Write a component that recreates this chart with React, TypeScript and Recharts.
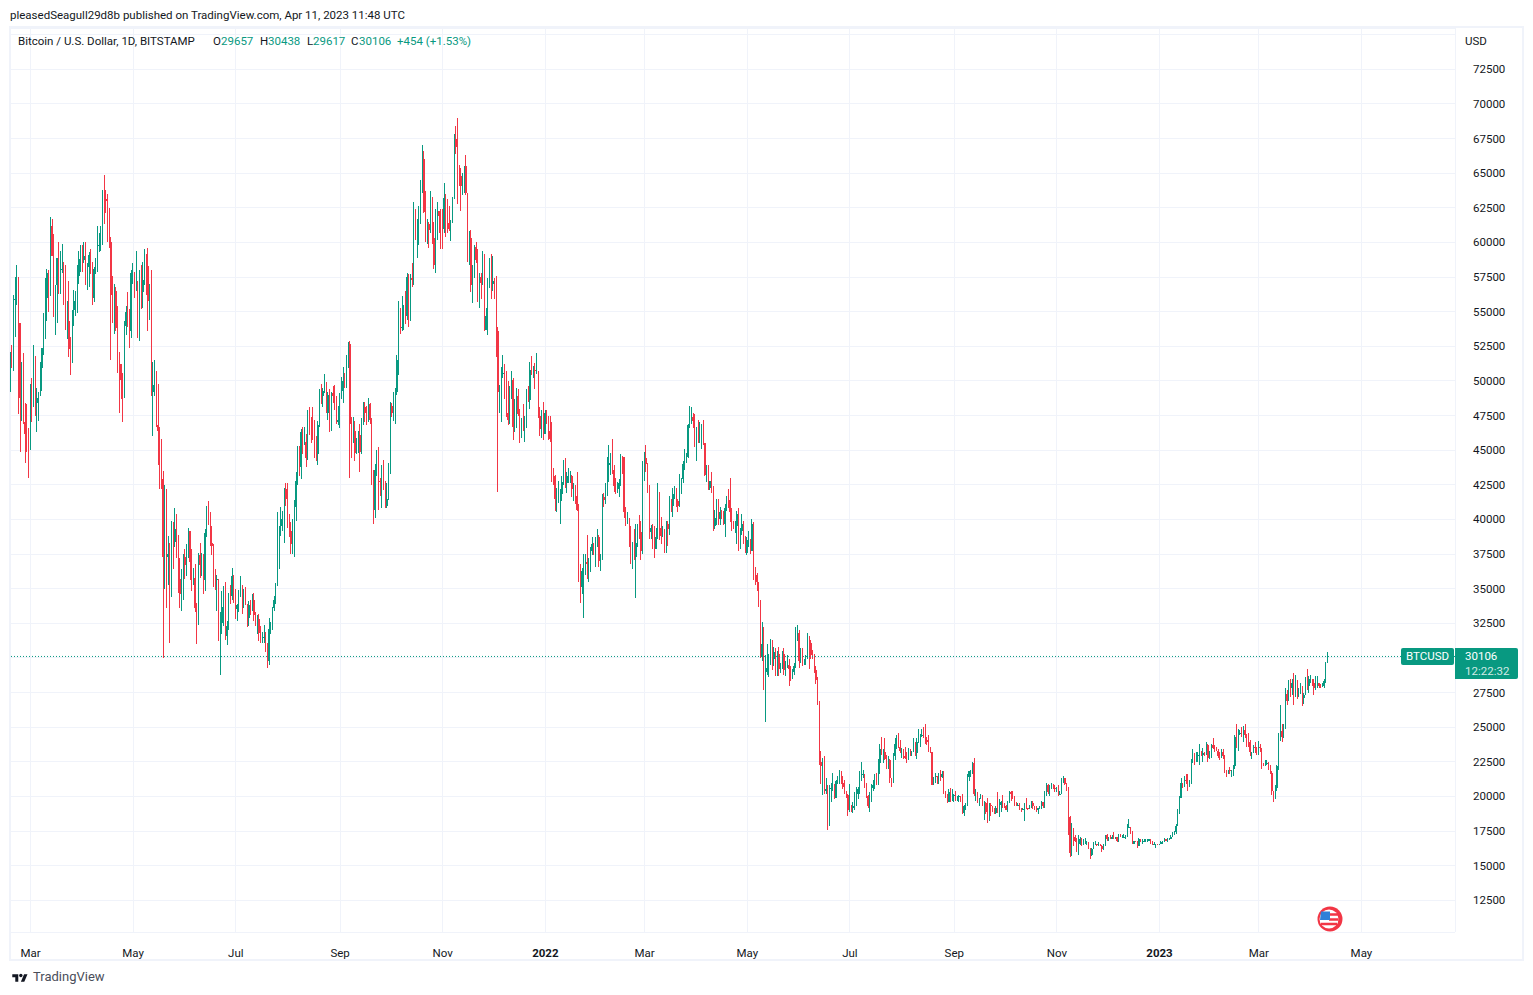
import React from 'react';
import { ComposedChart, Bar, XAxis, YAxis, CartesianGrid, ReferenceLine } from 'recharts';

// Daily [high, low, close] triples in $k, one named list per month
const feb21 = [52.6,48.9,52.1, 52.6,50.9,51.6, 56.2,50.7,55.9, 57.5,53.2,55.9, 58.4,55.5,57.4, 57.5,47.6,54.2, 54.2,44.9,48.8, 51.4,47.1,49.7, 52.0,46.9,47.0, 48.4,44.1,46.2, 48.3,44.9,46.1, 46.6,43.0,45.2];
const mar21 = [49.8,45.0,49.6, 50.2,47.0,48.4, 52.6,48.1,50.4, 51.8,47.5,48.4, 49.5,46.3,48.8, 49.2,47.1,48.9, 51.4,48.9,50.9, 52.4,49.3,52.4, 54.9,51.9,54.9, 57.4,53.0,56.0, 58.1,54.3,57.8, 58.0,55.0,57.2, 61.8,56.1,61.2, 61.7,59.0,59.0, 60.6,54.6,55.6, 56.9,53.3,56.9, 58.9,54.2,58.9, 60.0,56.3,57.6, 59.4,56.3,58.1, 59.9,57.8,58.1, 58.6,55.5,57.4, 58.4,53.7,54.1, 55.8,53.0,54.3, 57.2,51.7,52.3, 53.2,50.4,51.3, 55.1,51.3,55.1, 56.6,54.0,55.8, 56.5,54.7,55.8, 58.4,54.9,57.6, 59.4,57.0,58.8, 59.8,57.9,58.8];
const apr21 = [59.8,57.9,58.7, 60.0,58.5,59.0, 60.0,56.9,57.1, 58.5,56.6,58.2, 59.3,56.8,59.1, 59.5,57.7,58.0, 58.6,55.5,56.0, 58.2,55.7,58.1, 58.9,57.7,58.1, 61.2,57.9,59.8, 60.7,59.3,59.8, 61.2,59.4,60.0, 63.8,59.8,63.6, 64.9,61.3,63.1, 63.8,62.1,63.0, 63.5,60.0,61.4, 62.5,59.6,60.0, 60.4,51.5,56.2, 57.6,54.2,55.7, 57.0,53.4,56.5, 56.8,53.6,53.8, 55.4,50.6,51.7, 52.1,47.7,51.2, 51.2,48.7,50.1, 50.6,47.0,49.1, 54.3,48.8,54.0, 55.4,53.3,55.0, 56.4,53.9,54.9, 55.2,52.4,53.6, 58.0,53.1,57.8];
const may21 = [58.5,57.0,57.8, 57.9,56.0,56.6, 59.4,56.5,57.2, 57.2,53.1,53.3, 58.0,52.9,57.5, 58.4,55.2,56.4, 58.6,55.3,57.3, 59.5,56.9,58.9, 59.2,56.2,58.3, 59.6,53.6,55.8, 57.0,54.4,56.7, 58.0,48.9,49.2, 51.4,46.0,49.7, 51.5,48.9,49.9, 50.7,46.7,46.8, 49.8,43.9,46.4, 46.7,42.2,43.6, 45.8,42.2,42.9, 43.5,30.0,37.3, 42.5,35.0,40.6, 42.2,33.6,37.3, 38.8,35.3,37.5, 38.3,31.1,34.8, 39.9,34.4,38.8, 39.8,36.4,38.4, 40.8,38.0,39.3, 40.4,37.2,38.5, 38.9,34.7,35.7, 37.2,33.6,34.6, 36.4,33.4,35.7, 37.5,34.2,37.3];
const jun21 = [37.9,35.7,36.7, 38.2,35.9,37.6, 39.4,37.2,39.2, 39.2,35.6,36.9, 37.9,34.8,35.5, 36.5,35.3,35.8, 36.8,33.3,33.6, 34.0,31.0,33.4, 37.6,32.4,37.4, 38.3,35.8,36.7, 37.6,35.9,37.3, 37.5,34.6,35.6, 39.3,34.8,39.0, 41.0,38.7,40.5, 41.3,39.6,40.2, 40.5,38.1,38.3, 39.5,37.4,38.1, 38.2,35.1,35.8, 36.4,34.9,35.6, 36.0,33.4,35.7, 35.7,31.2,31.6, 33.3,28.8,32.5, 34.8,31.7,33.7, 35.2,32.3,34.7, 35.5,31.3,31.6, 32.7,30.9,32.3, 34.7,32.0,34.7, 35.3,33.9,34.5, 36.5,34.2,35.9, 36.0,34.0,35.0];
const jul21 = [35.0,32.8,33.5, 33.9,32.7,33.8, 34.9,33.3,34.7, 35.9,34.4,35.3, 35.2,33.2,33.7, 35.0,33.6,34.2, 35.1,33.8,33.9, 33.9,32.2,32.9, 34.1,32.3,33.8, 34.2,33.1,33.5, 34.6,33.4,34.2, 34.7,32.7,33.1, 33.3,32.3,32.7, 33.1,31.7,32.8, 33.2,31.2,31.8, 32.3,31.1,31.4, 31.9,31.1,31.5, 32.4,31.1,31.5, 31.9,30.4,30.8, 31.1,29.3,29.8, 32.9,29.5,32.1, 32.6,31.7,32.3, 33.7,32.0,33.6, 34.5,33.4,34.2, 35.4,33.9,35.4, 40.5,35.2,37.3, 39.5,36.4,39.5, 40.9,38.8,40.0, 40.6,39.2,40.0, 42.3,38.3,42.2, 42.6,41.0,41.5];
const aug21 = [42.6,39.4,39.9, 40.4,38.7,39.2, 39.8,37.5,38.2, 40.0,37.5,39.7, 41.4,37.3,40.9, 43.4,39.9,42.8, 45.3,42.5,44.6, 45.3,43.1,43.8, 46.5,42.9,46.3, 46.7,44.7,45.6, 46.7,45.4,45.6, 46.2,43.8,44.4, 47.9,44.3,47.8, 48.1,46.1,47.1, 47.4,45.5,47.0, 48.1,45.7,46.0, 47.2,44.4,44.8, 46.0,44.2,44.7, 47.1,43.9,46.8, 49.4,46.7,49.3, 49.8,48.3,48.9, 49.5,48.1,49.3, 50.5,49.1,49.5, 49.9,47.7,47.7, 49.2,47.2,49.0, 49.4,46.3,46.9, 49.2,46.4,49.1, 49.6,48.4,48.9, 49.7,47.9,48.8, 48.9,46.9,47.0, 48.2,46.8,47.2];
const sep21 = [49.1,46.6,48.8, 50.3,48.7,49.3, 51.0,48.4,50.0, 50.6,49.5,49.9, 51.9,49.5,51.8, 52.8,50.9,52.7, 52.9,43.0,46.9, 47.4,44.4,46.1, 47.4,45.5,46.4, 47.1,44.2,44.8, 45.9,44.7,45.2, 46.4,44.8,46.1, 46.9,43.4,44.9, 47.3,44.7,47.1, 48.5,46.8,48.1, 48.5,47.0,47.7, 48.2,46.8,47.3, 48.8,47.0,48.3, 48.4,46.9,47.2, 47.3,42.5,43.0, 43.6,39.7,40.7, 44.0,40.1,43.6, 45.0,43.1,44.9, 45.2,40.7,42.8, 43.0,41.7,42.7, 43.9,40.8,43.2, 44.3,42.1,42.2, 42.8,40.8,41.0, 42.6,40.8,41.5, 44.1,41.4,43.8];
const oct21 = [48.5,43.3,48.2, 48.4,47.4,47.7, 49.2,47.1,48.2, 49.5,46.9,49.2, 51.9,49.0,51.5, 55.8,50.4,55.3, 55.3,53.4,53.8, 56.1,53.6,53.9, 55.5,53.7,54.9, 56.5,54.1,54.7, 57.8,54.4,57.5, 57.7,53.9,56.0, 57.7,54.3,57.4, 58.5,56.8,57.3, 62.9,56.9,61.7, 62.4,60.2,60.9, 61.7,58.9,61.5, 62.6,59.8,62.0, 64.5,61.3,64.3, 67.0,63.6,66.0, 66.6,62.1,62.2, 63.7,60.0,60.7, 61.7,59.9,61.3, 61.5,59.6,60.9, 63.7,60.7,63.1, 63.3,59.9,60.3, 61.5,58.1,58.4, 62.4,57.8,60.6, 62.9,60.2,62.3, 62.3,60.7,61.9, 62.4,59.5,61.3];
const nov21 = [62.4,59.5,61.0, 64.3,60.7,63.2, 63.5,60.4,62.9, 63.1,60.7,61.4, 62.6,60.8,61.0, 61.6,60.1,61.5, 63.3,61.4,63.3, 67.8,63.1,67.5, 68.4,66.4,66.9, 69.0,62.8,64.9, 65.6,64.1,64.8, 65.4,62.3,64.1, 65.0,63.4,64.4, 65.5,63.6,65.5, 66.3,63.4,63.6, 63.6,58.6,60.1, 60.8,58.4,60.3, 60.9,56.4,56.9, 58.4,55.6,58.1, 59.8,57.4,59.7, 60.0,58.5,58.7, 59.5,55.7,56.3, 57.8,55.3,57.5, 57.8,55.9,57.1, 59.4,56.9,58.9, 59.2,53.6,53.7, 55.3,53.7,54.7, 57.4,53.3,57.2, 58.9,56.7,57.8, 59.2,55.9,57.0];
const dec21 = [59.0,56.5,57.2, 57.4,55.9,56.5, 57.6,51.7,53.6, 53.9,42.0,49.2, 49.7,47.7,49.4, 51.0,47.0,50.6, 51.9,50.2,50.6, 51.2,48.7,50.5, 50.7,47.4,47.7, 50.0,46.8,47.2, 49.6,46.9,49.4, 50.7,48.7,50.1, 50.2,45.7,46.7, 48.7,46.3,48.4, 49.5,46.6,48.9, 49.4,47.5,47.6, 48.0,45.5,46.2, 47.3,45.9,46.9, 48.3,46.4,46.7, 47.5,45.6,46.9, 49.4,46.6,49.0, 49.6,48.5,48.6, 51.4,48.0,50.8, 51.8,50.4,50.4, 51.1,50.2,50.8, 51.3,49.4,50.7, 52.0,50.5,50.7, 50.7,47.3,47.5, 48.1,46.0,46.5, 47.9,45.9,47.1, 48.5,45.7,46.2];
const jan22 = [47.9,46.2,47.7, 47.9,46.9,47.3, 47.5,45.7,46.4, 47.5,45.6,45.8, 47.0,42.7,43.4, 43.7,42.5,43.1, 43.2,40.6,41.5, 42.3,40.5,41.7, 42.8,41.2,41.8, 42.2,39.7,41.8, 43.1,41.3,42.7, 44.3,42.5,43.9, 44.4,42.3,42.6, 43.4,41.9,43.1, 43.7,42.6,43.1, 43.5,42.6,43.1, 43.2,41.6,42.2, 42.6,41.3,42.4, 42.5,41.1,41.7, 43.4,40.6,40.7, 41.1,35.5,36.5, 36.8,34.0,35.1, 36.5,34.6,36.3, 37.5,32.9,36.7, 37.5,36.0,36.9, 38.9,35.7,36.8, 37.2,35.5,37.2, 38.0,36.2,37.7, 38.7,37.4,38.2, 38.3,37.4,37.9, 38.7,36.6,38.5];
const feb22 = [39.3,38.0,38.7, 38.9,36.6,37.0, 37.5,36.3,37.3, 41.8,37.1,41.6, 41.9,40.9,41.4, 42.6,41.1,42.4, 44.5,41.7,43.9, 45.4,42.7,44.1, 44.8,43.2,44.4, 45.8,43.3,43.6, 43.9,42.0,42.4, 43.0,41.8,42.2, 42.7,41.9,42.2, 42.9,41.6,42.6, 44.7,42.4,44.6, 44.6,43.3,44.5, 44.2,40.1,40.5, 40.9,39.5,40.0, 40.5,39.7,40.1, 40.1,38.0,38.4, 39.5,36.8,37.0, 38.4,36.4,38.2, 39.3,37.1,37.3, 39.7,34.3,38.3, 39.7,38.0,39.2, 40.3,38.6,39.1, 39.9,37.1,37.7, 44.2,37.5,43.2];
const mar22 = [44.9,42.8,44.4, 45.4,43.4,44.0, 44.1,41.9,42.5, 42.5,38.6,39.1, 39.6,38.6,39.4, 39.7,37.9,38.4, 39.5,37.2,37.9, 39.4,37.9,38.7, 42.6,38.6,41.9, 42.0,38.5,39.4, 40.2,38.2,38.8, 39.5,38.7,38.8, 39.3,37.6,37.8, 39.9,37.6,39.7, 39.9,38.1,39.3, 41.7,38.9,41.1, 41.5,40.5,41.0, 42.3,40.2,41.8, 42.4,41.5,42.2, 42.3,40.9,41.3, 41.5,40.5,41.0, 43.3,40.9,42.4, 43.0,41.8,42.9, 44.2,42.6,44.0, 45.1,43.6,44.3, 44.8,44.1,44.5, 46.9,44.4,46.8, 48.2,46.6,47.1, 48.1,46.9,47.4, 47.7,46.6,47.1, 47.6,45.2,45.5];
const apr22 = [46.7,44.2,46.3, 47.2,45.5,45.8, 47.0,45.5,46.4, 46.9,45.1,46.6, 47.2,45.4,45.5, 45.5,43.1,43.2, 43.9,42.7,43.4, 43.9,42.1,42.3, 42.8,42.1,42.8, 43.4,41.9,42.2, 42.4,39.2,39.5, 40.7,39.3,40.1, 41.5,39.6,41.1, 41.5,39.6,40.0, 40.9,39.6,40.5, 40.7,40.0,40.4, 40.6,39.6,39.7, 41.1,38.7,40.8, 41.7,40.6,41.5, 42.2,40.8,41.4, 43.0,39.8,40.5, 40.8,39.2,39.7, 39.9,39.3,39.5, 39.9,39.0,39.5, 40.6,38.2,40.4, 40.8,37.7,38.1, 39.4,37.9,39.2, 40.4,38.9,39.7, 39.9,38.2,38.6, 38.8,37.6,37.6];
const may22 = [38.7,37.4,38.5, 39.2,38.0,38.5, 38.6,37.5,37.7, 40.0,37.7,39.7, 39.8,35.6,36.5, 36.6,35.3,36.0, 36.1,34.8,35.5, 35.5,33.7,34.0, 34.2,30.0,30.1, 32.6,29.8,31.0, 32.2,27.7,29.0, 30.2,25.4,29.0, 31.0,28.8,29.3, 30.3,28.6,30.1, 31.4,29.5,31.3, 31.3,29.1,29.9, 30.8,29.4,30.4, 30.7,28.7,28.7, 30.5,28.7,30.3, 30.8,28.7,29.2, 29.6,28.9,29.4, 30.5,29.2,30.3, 30.7,28.8,29.1, 29.8,28.7,29.5, 30.2,29.3,29.5, 29.9,28.0,29.2, 29.4,28.3,28.6, 29.2,28.5,29.0, 29.6,28.8,29.4, 32.2,29.3,31.7, 32.4,31.2,31.8];
const jun22 = [32.0,29.3,29.8, 30.7,29.6,30.4, 30.7,29.4,29.7, 29.9,29.5,29.9, 30.2,29.5,29.9, 31.8,29.9,31.4, 31.6,29.2,31.1, 31.3,29.9,30.2, 30.6,29.9,30.1, 30.3,28.9,29.1, 29.4,28.1,28.4, 28.6,26.6,26.6, 26.9,22.3,22.5, 23.3,20.9,22.2, 22.8,20.1,22.6, 22.9,20.2,20.4, 21.3,20.2,20.5, 20.8,17.6,19.0, 20.8,17.9,20.6, 21.0,19.6,20.6, 21.7,20.4,20.7, 20.9,19.8,19.9, 21.2,19.9,21.1, 21.5,20.9,21.2, 21.9,20.9,21.5, 21.8,20.9,21.0, 21.5,20.5,20.7, 21.2,20.2,20.3, 20.4,19.9,20.1, 20.2,18.6,19.0];
const jul22 = [20.9,18.9,19.3, 19.4,18.9,19.2, 19.6,18.8,19.3, 20.3,19.0,20.2, 20.7,19.3,20.2, 20.7,19.8,20.5, 21.8,20.2,21.6, 22.5,21.1,21.6, 21.9,21.3,21.6, 21.6,20.6,20.9, 21.0,19.9,20.0, 20.1,19.2,19.3, 20.3,18.9,20.2, 20.9,19.6,20.6, 21.2,20.4,20.8, 21.6,20.5,21.2, 21.7,20.8,20.8, 22.7,20.8,22.4, 23.8,21.6,23.4, 24.3,23.0,23.2, 23.4,22.4,23.2, 24.2,22.6,22.7, 23.0,22.0,22.4, 22.9,22.0,22.6, 22.7,21.0,21.3, 21.3,20.7,21.2, 23.1,21.0,22.9, 24.2,22.6,23.8, 24.4,23.4,23.8, 24.6,23.5,23.6, 24.1,23.1,23.3];
const aug22 = [23.5,22.8,23.3, 23.4,22.7,22.9, 23.6,22.7,22.8, 23.2,22.4,22.6, 23.5,22.6,23.3, 23.4,22.9,23.0, 23.3,22.9,23.2, 24.2,23.2,23.8, 23.9,22.9,23.1, 24.2,22.7,23.9, 24.9,23.9,23.9, 24.5,23.6,24.4, 24.9,24.3,24.4, 25.0,24.2,24.3, 25.2,23.8,24.1, 24.3,23.7,23.9, 24.4,23.2,23.3, 23.6,23.1,23.2, 23.2,20.8,20.8, 21.4,20.8,21.1, 21.7,21.0,21.5, 21.5,20.9,21.4, 21.7,20.9,21.5, 21.9,21.1,21.4, 21.8,21.3,21.6, 21.8,20.2,20.3, 20.4,19.9,20.0, 20.2,19.5,19.6, 20.5,19.6,20.3, 20.6,19.6,19.8, 20.5,19.7,20.0];
const sep22 = [20.2,19.6,20.1, 20.4,19.7,20.0, 20.0,19.7,20.0, 20.1,19.6,20.0, 20.0,19.6,19.8, 20.2,18.7,18.8, 19.4,18.6,19.3, 19.5,19.0,19.3, 21.6,19.3,21.4, 21.8,21.1,21.8, 21.9,21.4,21.8, 22.5,21.6,22.4, 22.8,20.0,20.2, 20.5,19.7,20.2, 20.3,19.5,19.7, 19.9,19.3,19.8, 20.2,19.8,20.1, 20.1,19.3,19.4, 19.7,18.3,19.5, 19.6,18.7,18.9, 19.9,18.1,18.5, 19.5,18.2,19.4, 19.5,18.6,19.3, 19.3,18.9,18.9, 19.2,18.7,18.8, 19.3,18.7,19.2, 20.3,18.8,19.1, 19.8,18.5,19.4, 19.7,18.9,19.6, 20.1,19.2,19.4];
const oct22 = [19.5,19.2,19.3, 19.4,19.0,19.0, 19.7,18.9,19.6, 20.4,19.5,20.3, 20.4,19.7,20.2, 20.4,19.8,19.9, 20.0,19.3,19.5, 19.6,19.3,19.4, 19.5,19.3,19.4, 19.5,19.0,19.1, 19.2,18.9,19.0, 19.2,19.0,19.1, 19.5,18.2,19.4, 19.9,19.1,19.2, 19.2,19.0,19.1, 19.4,19.1,19.3, 19.7,19.2,19.5, 19.7,19.1,19.3, 19.3,19.0,19.1, 19.3,18.9,19.0, 19.2,18.7,19.2, 19.3,19.1,19.2, 19.7,19.1,19.6, 19.6,19.2,19.3, 20.4,19.2,20.1, 21.0,20.0,20.8, 20.9,20.2,20.3, 20.8,20.0,20.6, 21.0,20.5,20.8, 20.9,20.5,20.6, 20.8,20.3,20.5];
const nov22 = [20.7,20.3,20.5, 20.8,20.0,20.2, 20.4,20.1,20.2, 21.3,20.2,21.1, 21.5,21.0,21.3, 21.3,20.8,20.9, 21.0,20.4,20.6, 20.7,17.2,18.5, 18.6,15.6,15.9, 18.1,15.7,17.6, 17.7,16.4,17.1, 17.2,16.7,16.8, 17.0,16.0,16.3, 17.2,15.8,16.6, 17.1,16.5,16.9, 17.0,16.4,16.7, 16.9,16.5,16.7, 17.0,16.6,16.7, 16.8,16.5,16.7, 16.7,16.2,16.3, 16.3,15.5,15.8, 16.3,15.7,16.2, 16.7,16.2,16.6, 16.8,16.5,16.6, 16.6,16.4,16.5, 16.7,16.4,16.5, 16.6,16.4,16.4, 16.5,16.0,16.2, 16.6,16.1,16.4, 17.2,16.4,17.2];
const dec22 = [17.3,16.8,16.9, 17.1,16.8,17.1, 17.2,16.9,16.9, 17.2,16.9,17.1, 17.4,16.9,17.0, 17.1,16.9,17.1, 17.1,16.7,16.8, 17.3,16.7,17.2, 17.3,17.1,17.1, 17.2,17.1,17.1, 17.3,17.1,17.1, 17.2,16.9,17.2, 18.0,17.1,17.8, 18.4,17.7,17.8, 17.8,17.3,17.4, 17.5,16.6,16.6, 16.8,16.6,16.8, 16.8,16.7,16.7, 16.8,16.3,16.4, 17.0,16.4,16.9, 16.9,16.7,16.8, 16.9,16.6,16.8, 16.9,16.8,16.8, 16.9,16.8,16.8, 16.9,16.7,16.8, 16.9,16.8,16.9, 16.9,16.6,16.7, 16.8,16.5,16.5, 16.7,16.5,16.6, 16.6,16.3,16.6, 16.6,16.5,16.5];
const jan23 = [16.6,16.5,16.6, 16.8,16.6,16.7, 16.8,16.6,16.7, 17.0,16.7,16.9, 16.9,16.8,16.8, 17.0,16.7,16.9, 17.0,16.9,16.9, 17.2,16.9,17.1, 17.4,17.1,17.2, 17.5,17.2,17.4, 18.0,17.3,17.9, 19.1,17.9,18.8, 20.0,18.7,19.9, 21.3,19.9,21.0, 21.0,20.6,20.9, 21.5,20.7,21.2, 21.6,20.9,21.1, 21.6,20.4,20.7, 21.2,20.7,21.1, 22.7,20.9,22.7, 23.4,22.4,22.8, 23.1,22.3,22.7, 23.2,22.5,22.9, 23.2,22.5,23.0, 23.8,22.3,23.1, 23.3,22.9,23.0, 23.5,22.5,23.1, 23.2,22.9,23.0, 23.9,23.0,23.7, 23.8,22.5,22.8, 23.3,22.7,23.1];
const feb23 = [23.8,22.8,23.7, 24.2,23.4,23.5, 23.7,23.2,23.4, 23.6,23.3,23.3, 23.4,22.8,22.9, 23.2,22.6,22.8, 23.4,22.8,23.2, 23.4,22.7,22.9, 23.0,21.7,21.8, 21.9,21.4,21.6, 21.9,21.6,21.9, 22.1,21.6,21.8, 21.9,21.4,21.8, 22.3,21.5,22.2, 24.4,22.0,24.3, 25.2,23.5,23.5, 24.9,23.3,24.6, 24.8,24.4,24.6, 25.0,24.3,24.3, 25.1,23.9,24.8, 25.2,24.2,24.4, 24.5,23.6,24.2, 24.6,23.6,23.9, 24.1,22.9,23.2, 23.2,22.7,23.2, 23.7,23.1,23.6, 23.9,23.1,23.5, 23.6,23.0,23.1];
const mar23 = [24.0,23.0,23.6, 23.8,23.2,23.5, 23.5,22.0,22.4, 22.4,22.2,22.3, 22.6,22.2,22.4, 22.6,22.3,22.4, 22.5,21.9,22.2, 22.3,21.6,21.7, 21.8,20.1,20.4, 20.4,19.6,20.2, 20.8,19.8,20.6, 22.3,20.4,22.2, 24.6,21.9,24.1, 26.6,24.0,24.7, 25.2,23.9,24.3, 25.2,24.2,25.0, 27.8,24.9,27.4, 27.7,26.6,26.9, 28.4,26.9,28.0, 28.5,27.2,27.8, 28.5,27.3,28.2, 28.9,26.6,27.3, 28.8,27.2,28.3, 28.4,27.0,27.5, 27.8,27.2,27.5, 28.2,27.4,28.0, 28.0,26.5,27.1, 27.5,26.7,27.3, 28.6,27.3,28.3, 29.2,27.7,28.0, 28.7,27.5,28.5];
const apr23 = [28.8,28.2,28.5, 28.5,28.0,28.2, 28.5,27.3,27.8, 28.7,27.7,28.2, 28.7,27.8,28.2, 28.2,27.8,28.0, 28.1,27.8,27.9, 28.2,27.9,28.0, 28.5,27.8,28.3, 29.7,28.2,29.657, 30.438,29.617,30.106];

const months = [feb21, mar21, apr21, may21, jun21, jul21, aug21, sep21, oct21, nov21, dec21, jan22, feb22, mar22, apr22, may22, jun22, jul22, aug22, sep22, oct22, nov22, dec22, jan23, feb23, mar23, apr23];
const firstOpen = 49.2;
const firstDay = -12; // days relative to 1 Mar 2021

const monthTicks = [0, 61, 122, 184, 245, 306, 365, 426, 487, 549, 610, 671, 730, 791];
const monthLabels = ['Mar', 'May', 'Jul', 'Sep', 'Nov', '2022', 'Mar', 'May', 'Jul', 'Sep', 'Nov', '2023', 'Mar', 'May'];
const priceTicks = [12500, 15000, 17500, 20000, 22500, 25000, 27500, 30000, 32500, 35000, 37500, 40000, 42500, 45000, 47500, 50000, 52500, 55000, 57500, 60000, 62500, 65000, 67500, 70000, 72500, 75000];
const lastPrice = 30106;

const flat = months.flat();
const rows: any[] = [];
for (let i = 0; i < flat.length; i += 3) {
  const prev = i === 0 ? firstOpen : flat[i - 1];
  rows.push({
    d: firstDay + i / 3,
    open: prev * 1000,
    high: flat[i] * 1000,
    low: flat[i + 1] * 1000,
    close: flat[i + 2] * 1000,
    range: [flat[i + 1] * 1000, flat[i] * 1000],
  });
}

const UP = '#089981';
const DOWN = '#F23645';
const TEXT = '#131722';
const FONT = 'Roboto, sans-serif';

function Candle(props: any) {
  const { x, y, width, height, payload } = props;
  if (height == null || !payload) return null;
  const cx = x + width / 2;
  const k = height / (payload.high - payload.low);
  const top = y + (payload.high - Math.max(payload.open, payload.close)) * k;
  const bot = y + (payload.high - Math.min(payload.open, payload.close)) * k;
  const fill = payload.close >= payload.open ? UP : DOWN;
  const l = Math.round(cx - 0.65);
  const r = Math.round(cx + 0.65);
  return (
    <g shapeRendering="crispEdges">
      <rect x={Math.round(cx - 0.5)} y={y} width={1} height={Math.max(1, height)} fill={fill} />
      <rect x={l} y={top} width={Math.max(1, r - l)} height={Math.max(1, bot - top)} fill={fill} />
    </g>
  );
}

function TimeTick(props: any) {
  const { x, y, index } = props;
  const label = monthLabels[index];
  const bold = label.length === 4;
  return (
    <text x={x} y={y + 17} textAnchor="middle" fontFamily={FONT} fontSize={11.5} fontWeight={bold ? 700 : 400} fill={TEXT}>
      {label}
    </text>
  );
}

function PriceTick(props: any) {
  const { x, y, payload } = props;
  if (payload.value === 75000) return null;
  return (
    <text x={x + 10} y={y + 4} textAnchor="start" fontFamily={FONT} fontSize={11.5} fill={TEXT}>
      {payload.value}
    </text>
  );
}

const abs = (left: number, top: number, extra: any = {}) => ({
  position: 'absolute' as const,
  left,
  top,
  lineHeight: '14px',
  whiteSpace: 'nowrap' as const,
  ...extra,
});

const legendParts: [number, string, string][] = [
  [18, 'Bitcoin / U.S. Dollar, 1D, BITSTAMP', TEXT],
  [213, 'O', TEXT],
  [221, '29657', UP],
  [260, 'H', TEXT],
  [268, '30438', UP],
  [307, 'L', TEXT],
  [313, '29617', UP],
  [351, 'C', TEXT],
  [359, '30106', UP],
  [397, '+454 (+1.53%)', UP],
];

export default function App() {
  return (
    <div style={{ position: 'fixed', left: 0, top: 0, width: 1533, height: 995, background: '#fff', fontFamily: FONT, fontSize: 11.5, color: TEXT, overflow: 'hidden' }}>
      <div style={abs(10, 8)}>pleasedSeagull29d8b published on TradingView.com, Apr 11, 2023 11:48 UTC</div>
      <div style={{ position: 'absolute', left: 9, top: 26, width: 1511, height: 931, border: '2px solid #F0F3FA' }} />
      <ComposedChart
        width={1533}
        height={995}
        data={rows}
        margin={{ top: 28, left: 10, right: 0, bottom: 33 }}
        style={{ position: 'absolute', left: 0, top: 0 }}
      >
        <CartesianGrid stroke="#F0F3FA" strokeWidth={1} shapeRendering="crispEdges" />
        <XAxis
          type="number"
          dataKey="d"
          domain={[-12.18, 846.6]}
          allowDataOverflow
          ticks={monthTicks}
          interval={0}
          height={30}
          axisLine={false}
          tickLine={false}
          tick={<TimeTick />}
        />
        <YAxis
          type="number"
          orientation="right"
          domain={[10211, 75482]}
          allowDataOverflow
          ticks={priceTicks}
          interval={0}
          width={78}
          axisLine={false}
          tickLine={false}
          tick={<PriceTick />}
        />
        <ReferenceLine y={lastPrice} stroke={UP} strokeWidth={1} strokeDasharray="1 2" />
        <Bar dataKey="range" barSize={1} isAnimationActive={false} shape={<Candle />} />
      </ComposedChart>
      <div style={abs(18, 34, { position: 'absolute' })} />
      {legendParts.map(([left, text, color]) => (
        <div key={left} style={abs(left, 34, { color })}>{text}</div>
      ))}
      <div style={abs(1465, 34)}>USD</div>
      <div style={{ position: 'absolute', left: 1401, top: 648, width: 53, height: 17, background: UP, borderRadius: 2, color: '#fff', textAlign: 'center', lineHeight: '17px', fontSize: 11.5 }}>BTCUSD</div>
      <div style={{ position: 'absolute', left: 1455, top: 648, width: 63, height: 31, background: UP, borderRadius: '0 2px 2px 0', color: '#fff' }}>
        <div style={abs(10, 1, { color: '#fff' })}>30106</div>
        <div style={abs(10, 16, { color: 'rgba(255,255,255,0.82)' })}>12:22:32</div>
      </div>
      <svg width={26} height={26} viewBox="0 0 26 26" style={{ position: 'absolute', left: 1317, top: 906 }}>
        <circle cx={13} cy={13} r={12.5} fill={DOWN} />
        <circle cx={12} cy={13} r={9.5} fill="#fff" />
        <path d="M12 8.5h9M12 13.5h9.5M4 18h16" stroke={DOWN} strokeWidth={2.6} fill="none" />
        <path d="M4 5.5h9v8.5H3z" fill="#2F80D8" />
      </svg>
      <svg width={20} height={12} viewBox="0 0 36 28" style={{ position: 'absolute', left: 10, top: 972 }}>
        <path d="M14 22H7V11H0V4h14v18zM28 22h-8l7.5-18h8L28 22z" fill="#131722" transform="translate(0,1)" />
        <circle cx={20} cy={8} r={4} fill="#131722" />
      </svg>
      <div style={abs(33, 970, { fontSize: 13, color: '#4A4E5A' })}>TradingView</div>
    </div>
  );
}
